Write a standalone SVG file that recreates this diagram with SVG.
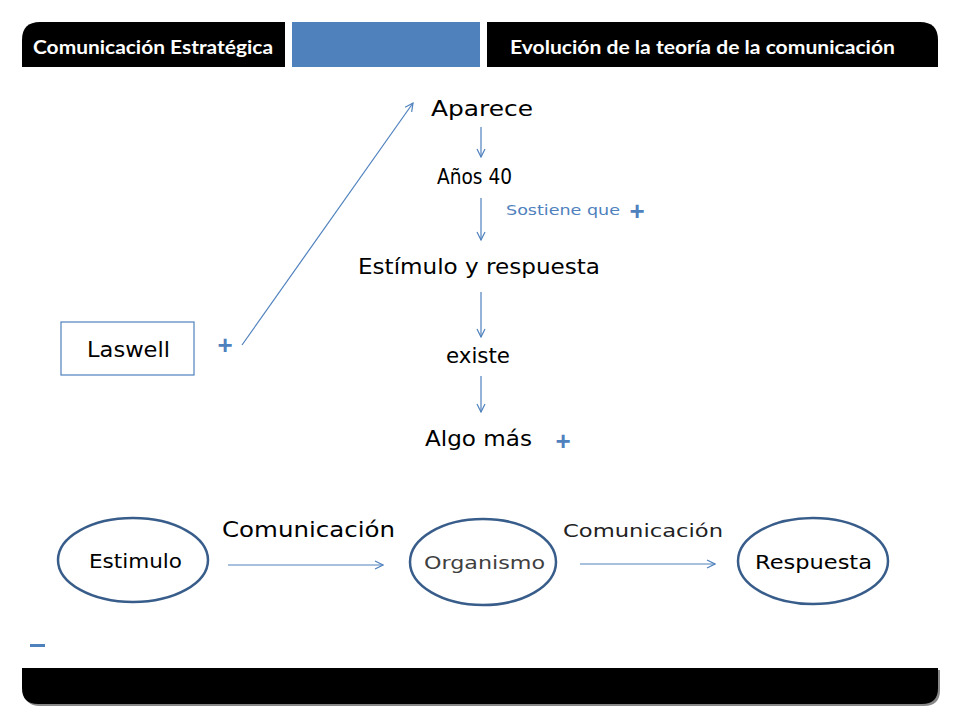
<svg xmlns="http://www.w3.org/2000/svg" width="960" height="720" viewBox="0 0 960 720">
<style>
  .t { font-family: "Century Gothic", "URW Gothic", "DejaVu Sans", "Liberation Sans", sans-serif; fill: #000; }
  .hdr { font-family: "Lato", "Liberation Sans", sans-serif; font-weight: bold; fill: #fff; font-size: 18px; }
  .plus { font-family: "Liberation Sans", sans-serif; font-weight: bold; fill: #4F81BD; font-size: 26px; text-anchor: middle; }
  .conn { stroke: #4F81BD; stroke-width: 1.2; fill: none; marker-end: url(#arr); }
  .ell { fill: #fff; stroke: #385D8A; stroke-width: 2.5; }
</style>
<defs>
  <marker id="arr" viewBox="0 0 10 10" refX="9" refY="5" markerWidth="10" markerHeight="10" markerUnits="userSpaceOnUse" orient="auto">
    <path d="M1,1 L9,5 L1,9" fill="none" stroke="#4F81BD" stroke-width="1.2"/>
  </marker>
</defs>
<rect width="960" height="720" fill="#fff"/>
<g id="header">
  <path d="M22,67 V40 Q22,22 40,22 H285 V67 Z" fill="#000"/>
  <rect x="292" y="22" width="188" height="45" fill="#4F81BD"/>
  <path d="M487,22 H920 Q938,22 938,40 V67 H487 Z" fill="#000"/>
  <text class="hdr" x="33" y="54" textLength="240" lengthAdjust="spacingAndGlyphs">Comunicación Estratégica</text>
  <text class="hdr" x="510" y="54" textLength="385" lengthAdjust="spacingAndGlyphs">Evolución de la teoría de la comunicación</text>
</g>
<g id="footer">
  <path d="M24,670 H940 V690 Q940,706 924,706 H40 Q24,706 24,690 Z" fill="#888"/>
  <path d="M22,668 H938 V688 Q938,704 922,704 H38 Q22,704 22,688 Z" fill="#000"/>
  <rect x="30" y="644" width="15" height="3" fill="#4F81BD"/>
</g>
<g id="connectors">
  <line class="conn" x1="242" y1="345" x2="413" y2="103"/>
  <line class="conn" x1="481" y1="127" x2="481" y2="157"/>
  <line class="conn" x1="481" y1="198" x2="481" y2="240"/>
  <line class="conn" x1="481" y1="292" x2="481" y2="337"/>
  <line class="conn" x1="481" y1="376" x2="481" y2="412"/>
  <line class="conn" x1="228" y1="565" x2="383" y2="565"/>
  <line class="conn" x1="580" y1="564" x2="715" y2="564"/>
</g>
<g id="aparece"><text class="t" x="431" y="116" font-size="21" textLength="102" lengthAdjust="spacingAndGlyphs">Aparece</text></g>
<g id="anos40"><text class="t" x="437" y="184" font-size="21" textLength="75" lengthAdjust="spacingAndGlyphs">Años 40</text></g>
<g id="sostiene">
  <text class="t" x="506" y="215" font-size="14" style="fill:#4F81BD" textLength="114" lengthAdjust="spacingAndGlyphs">Sostiene que</text>
  <text class="plus" x="637" y="220">+</text>
</g>
<g id="estimulo-respuesta"><text class="t" x="358" y="274" font-size="21" textLength="242" lengthAdjust="spacingAndGlyphs">Estímulo y respuesta</text></g>
<g id="existe"><text class="t" x="446" y="363" font-size="21" textLength="64" lengthAdjust="spacingAndGlyphs">existe</text></g>
<g id="algo-mas">
  <text class="t" x="425" y="446" font-size="21" textLength="107" lengthAdjust="spacingAndGlyphs">Algo más</text>
  <text class="plus" x="563" y="450">+</text>
</g>
<g id="laswell">
  <rect x="61" y="322" width="133" height="53" fill="#fff" stroke="#4F81BD" stroke-width="1.2"/>
  <text class="t" x="87" y="357" font-size="21" textLength="83" lengthAdjust="spacingAndGlyphs">Laswell</text>
  <text class="plus" x="225" y="354">+</text>
</g>
<g id="estimulo">
  <ellipse class="ell" cx="133" cy="560" rx="75" ry="42"/>
  <text class="t" x="89" y="568" font-size="20" textLength="93" lengthAdjust="spacingAndGlyphs">Estimulo</text>
</g>
<g id="organismo">
  <ellipse class="ell" cx="483" cy="562" rx="73" ry="43"/>
  <text class="t" x="424" y="569" font-size="18" style="fill:#404040" textLength="121" lengthAdjust="spacingAndGlyphs">Organismo</text>
</g>
<g id="respuesta">
  <ellipse class="ell" cx="813" cy="561" rx="75" ry="43"/>
  <text class="t" x="755" y="569" font-size="20" textLength="117" lengthAdjust="spacingAndGlyphs">Respuesta</text>
</g>
<g id="labels">
  <text class="t" x="222" y="537" font-size="21" textLength="173" lengthAdjust="spacingAndGlyphs">Comunicación</text>
  <text class="t" x="563" y="537" font-size="18" style="fill:#222" textLength="160" lengthAdjust="spacingAndGlyphs">Comunicación</text>
</g>
</svg>
